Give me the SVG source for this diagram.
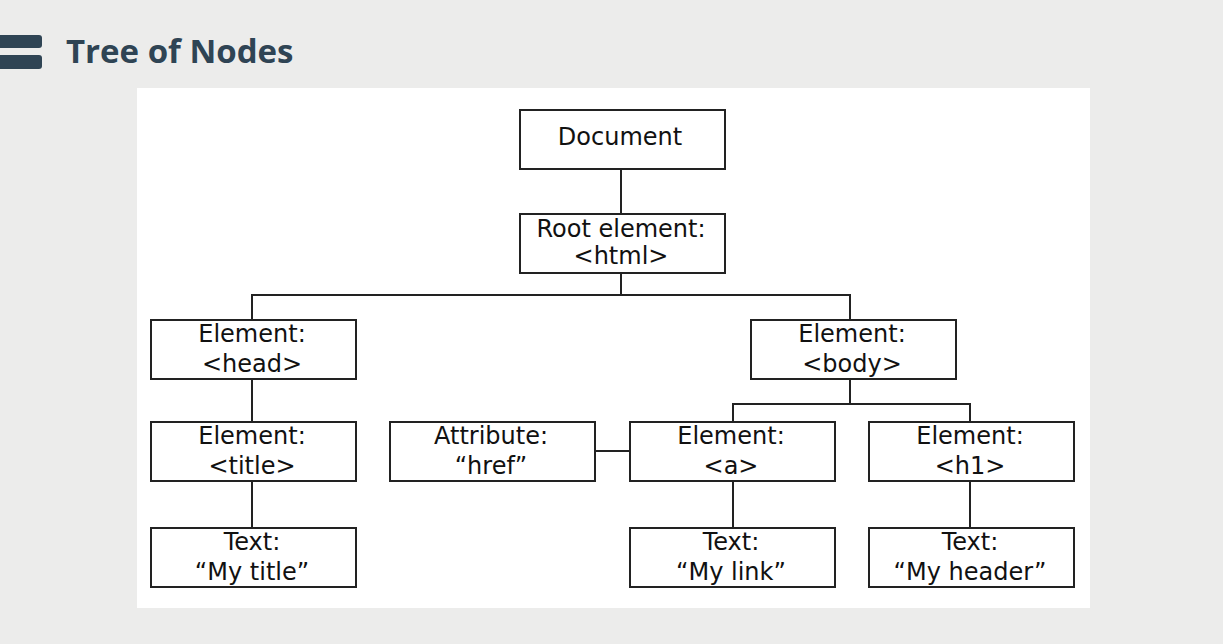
<svg xmlns="http://www.w3.org/2000/svg" width="1223" height="644" viewBox="0 0 1223 644">
<style>
.box{fill:#fff;stroke:#222;stroke-width:2}
.t{font-family:"DejaVu Sans",Verdana,sans-serif;font-size:24px;fill:#111;text-anchor:middle}
.c{stroke:#222;stroke-width:2;fill:none}
</style>
<rect width="1223" height="644" fill="#ececeb"/>
<g id="header">
<rect x="-6" y="35" width="48" height="13" rx="3" fill="#2f4454"/>
<rect x="-6" y="55" width="48" height="14" rx="3" fill="#2f4454"/>
<text x="66" y="63" font-family="'Open Sans',sans-serif" font-weight="bold" font-size="33" fill="#2f4454">Tree of Nodes</text>
</g>
<rect x="137" y="88" width="953" height="520" fill="#fff"/>
<g id="connectors">
<path class="c" d="M621 169V214M621 273V295M252 320V295H850V320M252 379V422M252 481V528M850 379V404M733 422V404H970V422M595 451H630M733 481V528M970 481V528"/>
</g>
<g id="document"><rect class="box" x="520" y="110" width="205" height="59"/><text class="t" x="620" y="145">Document</text></g>
<g id="root"><rect class="box" x="520" y="214" width="205" height="59"/><text class="t" x="621" y="237">Root element:</text><text class="t" x="621" y="264">&lt;html&gt;</text></g>
<g id="head"><rect class="box" x="151" y="320" width="205" height="59"/><text class="t" x="252" y="342">Element:</text><text class="t" x="252" y="372">&lt;head&gt;</text></g>
<g id="body"><rect class="box" x="751" y="320" width="205" height="59"/><text class="t" x="852" y="342">Element:</text><text class="t" x="852" y="372">&lt;body&gt;</text></g>
<g id="title"><rect class="box" x="151" y="422" width="205" height="59"/><text class="t" x="252" y="444">Element:</text><text class="t" x="252" y="474">&lt;title&gt;</text></g>
<g id="attribute"><rect class="box" x="390" y="422" width="205" height="59"/><text class="t" x="491" y="444">Attribute:</text><text class="t" x="491" y="474">“href”</text></g>
<g id="a"><rect class="box" x="630" y="422" width="205" height="59"/><text class="t" x="731" y="444">Element:</text><text class="t" x="731" y="474">&lt;a&gt;</text></g>
<g id="h1"><rect class="box" x="869" y="422" width="205" height="59"/><text class="t" x="970" y="444">Element:</text><text class="t" x="970" y="474">&lt;h1&gt;</text></g>
<g id="text-title"><rect class="box" x="151" y="528" width="205" height="59"/><text class="t" x="252" y="550">Text:</text><text class="t" x="252" y="580">“My title”</text></g>
<g id="text-link"><rect class="box" x="630" y="528" width="205" height="59"/><text class="t" x="731" y="550">Text:</text><text class="t" x="731" y="580">“My link”</text></g>
<g id="text-header"><rect class="box" x="869" y="528" width="205" height="59"/><text class="t" x="970" y="550">Text:</text><text class="t" x="970" y="580">“My header”</text></g>
</svg>
